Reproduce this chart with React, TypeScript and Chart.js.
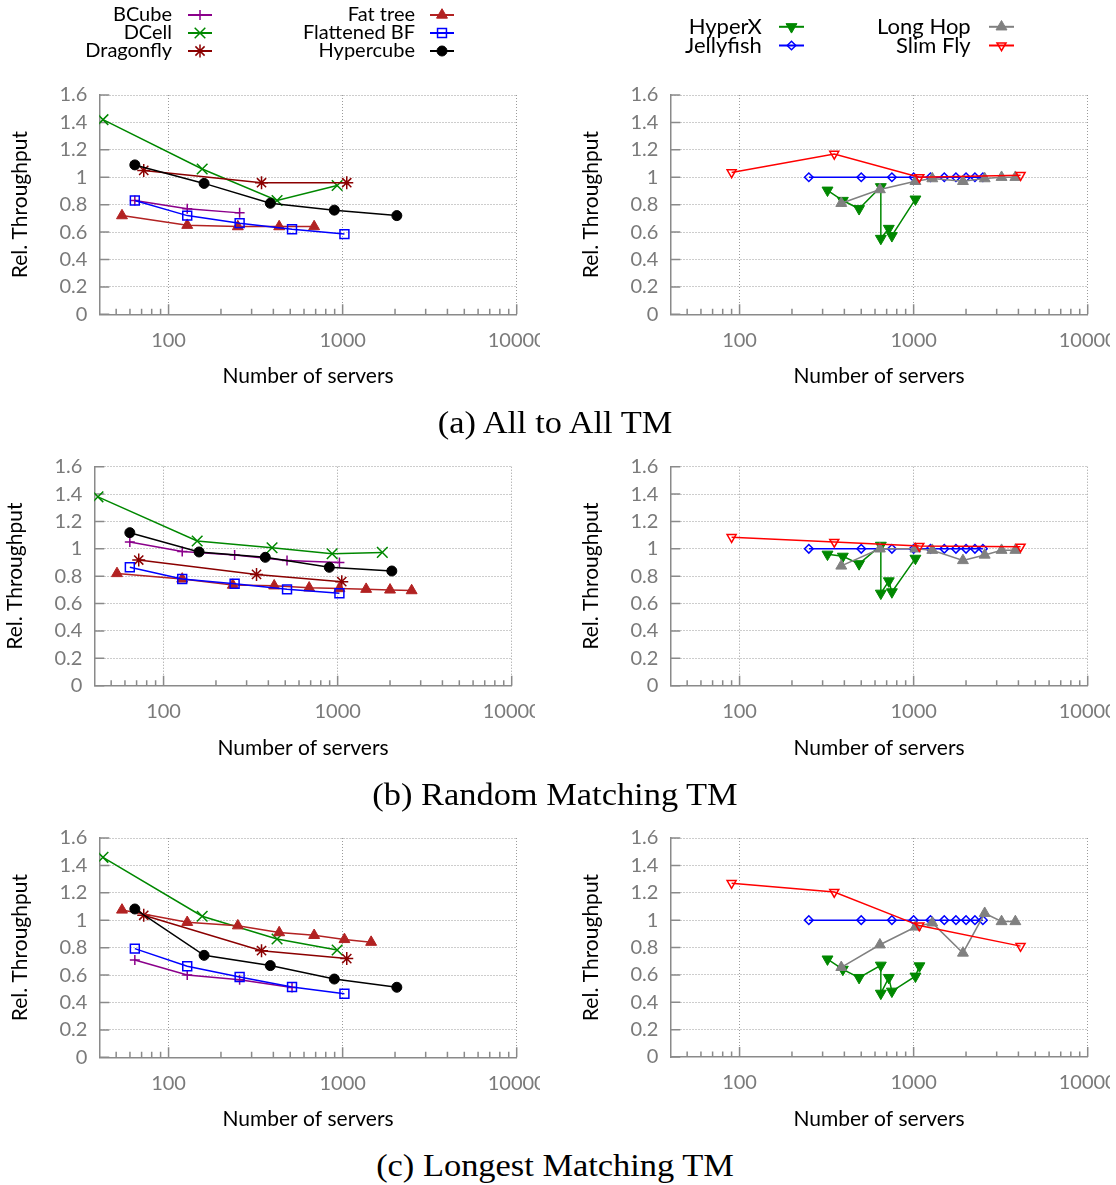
import React, { useEffect, useRef } from 'react';
import { Chart, registerables } from 'chart.js';
import { drawPoint } from 'chart.js/helpers';

Chart.register(...registerables);

// ---- axes ----
const X_MIN = 40;
const X_MAX = 10000;
const xTickValues = [100, 1000, 10000];
const xTickLabels = ['100', '1000', '10000'];
const yTickLabels = ['0', '0.2', '0.4', '0.6', '0.8', '1', '1.2', '1.4', '1.6'];

// ---- server counts per topology ----
const bcubeServers = [64, 128, 256, 512, 1024];
const dcellServers = [42, 156, 420, 930, 1806];
const dragonflyServers = [72, 342, 1056];
const fatTreeServers = [54, 128, 250, 432, 686, 1024, 1458, 2000, 2662];
const flattenedBfServers = [64, 128, 256, 512, 1024];
const hypercubeServers = [64, 160, 384, 896, 2048];
const hyperXServers = [320, 392, 486, 648, 648, 720, 750, 1024, 1080];
const jellyfishServers = [250, 500, 750, 1000, 1250, 1500, 1750, 2000, 2250, 2500];
const longHopServers = [384, 640, 1024, 1280, 1920, 2560, 3200, 3840];
const slimFlyServers = [90, 350, 1078, 4114];

// ---- (a) all to all ----
const bcubeAllToAll = [0.83, 0.77, 0.74];
const dcellAllToAll = [1.42, 1.06, 0.83, 0.94];
const dragonflyAllToAll = [1.05, 0.96, 0.96];
const fatTreeAllToAll = [0.72, 0.65, 0.64, 0.64, 0.64];
const flattenedBfAllToAll = [0.83, 0.72, 0.665, 0.62, 0.585];
const hypercubeAllToAll = [1.09, 0.955, 0.81, 0.76, 0.72];
const hyperXAllToAll = [0.905, 0.83, 0.77, 0.93, 0.553, 0.626, 0.573, 0.84];
const jellyfishAllToAll = [1, 1, 1, 1, 1, 1, 1, 1, 1, 1];
const longHopAllToAll = [0.81, 0.91, 0.97, 0.99, 0.97, 0.99, 1.0, 1.0];
const slimFlyAllToAll = [1.035, 1.17, 1.0, 1.015];

// ---- (b) random matching ----
const bcubeRandom = [1.05, 0.98, 0.955, 0.915, 0.9];
const dcellRandom = [1.38, 1.057, 1.008, 0.964, 0.974];
const dragonflyRandom = [0.918, 0.813, 0.76];
const fatTreeRandom = [0.82, 0.78, 0.735, 0.73, 0.715, 0.71, 0.705, 0.7, 0.695];
const flattenedBfRandom = [0.865, 0.779, 0.745, 0.704, 0.675];
const hypercubeRandom = [1.118, 0.977, 0.938, 0.865, 0.838];
const hyperXRandom = [0.96, 0.945, 0.89, 1.025, 0.675, 0.765, 0.685, 0.93];
const jellyfishRandom = [1, 1, 1, 1, 1, 1, 1, 1, 1, 1];
const longHopRandom = [0.875, 1.0, 1.0, 0.99, 0.915, 0.955, 0.99, 0.99];
const slimFlyRandom = [1.085, 1.05, 1.02, 1.015];

// ---- (c) longest matching ----
const bcubeLongest = [0.71, 0.6, 0.565, 0.51];
const dcellLongest = [1.459, 1.029, 0.863, 0.783];
const dragonflyLongest = [1.036, 0.778, 0.72];
const fatTreeLongest = [1.075, 0.985, 0.96, 0.91, 0.89, 0.86, 0.84];
const flattenedBfLongest = [0.793, 0.664, 0.586, 0.513, 0.464];
const hypercubeLongest = [1.082, 0.744, 0.669, 0.571, 0.511];
const hyperXLongest = [0.715, 0.64, 0.58, 0.67, 0.465, 0.58, 0.48, 0.59, 0.665];
const jellyfishLongest = [1, 1, 1, 1, 1, 1, 1, 1, 1, 1];
const longHopLongest = [0.655, 0.82, 0.95, 0.98, 0.76, 1.05, 0.99, 0.99];
const slimFlyLongest = [1.27, 1.205, 0.96, 0.81];

// ---- look of each topology ----
type Key =
  | 'bcube' | 'dcell' | 'dragonfly' | 'fatTree' | 'flattenedBf' | 'hypercube'
  | 'hyperX' | 'jellyfish' | 'longHop' | 'slimFly';

interface Look {
  label: string;
  color: string;
  pointStyle: string;
  rotation: number;
  radius: number;
  filled: boolean;
}

const looks: Record<Key, Look> = {
  bcube: { label: 'BCube', color: '#8b008b', pointStyle: 'cross', rotation: 0, radius: 5, filled: false },
  dcell: { label: 'DCell', color: '#008800', pointStyle: 'crossRot', rotation: 0, radius: 7.5, filled: false },
  dragonfly: { label: 'Dragonfly', color: '#8b0000', pointStyle: 'star', rotation: 0, radius: 6.5, filled: false },
  fatTree: { label: 'Fat tree', color: '#b22222', pointStyle: 'triangle', rotation: 0, radius: 6.3, filled: true },
  flattenedBf: { label: 'Flattened BF', color: '#0000ff', pointStyle: 'rect', rotation: 0, radius: 6.3, filled: false },
  hypercube: { label: 'Hypercube', color: '#000000', pointStyle: 'circle', rotation: 0, radius: 5, filled: true },
  hyperX: { label: 'HyperX', color: '#008800', pointStyle: 'triangle', rotation: 180, radius: 6.3, filled: true },
  jellyfish: { label: 'Jellyfish', color: '#0000ff', pointStyle: 'rectRot', rotation: 0, radius: 4.3, filled: false },
  longHop: { label: 'Long Hop', color: '#808080', pointStyle: 'triangle', rotation: 0, radius: 6.3, filled: true },
  slimFly: { label: 'Slim Fly', color: '#ff0000', pointStyle: 'triangle', rotation: 180, radius: 5.2, filled: false },
};

const servers: Record<Key, number[]> = {
  bcube: bcubeServers,
  dcell: dcellServers,
  dragonfly: dragonflyServers,
  fatTree: fatTreeServers,
  flattenedBf: flattenedBfServers,
  hypercube: hypercubeServers,
  hyperX: hyperXServers,
  jellyfish: jellyfishServers,
  longHop: longHopServers,
  slimFly: slimFlyServers,
};

const FONT = 'Lato, "Open Sans", sans-serif';
const TICK_GRAY = '#7a7a7a';
const AXIS_GRAY = '#8a8a8a';
const GRID_GRAY = '#9a9a9a';

// ---- key (legend) placement ----
interface KeyItem { key: Key; textRight: number; cx: number; half: number; y: number }

const leftKeyRows = [15, 33, 51];
const rightKeyRows = [26.8, 45.5];

const leftKeyItems: KeyItem[] = [
  ...(['bcube', 'dcell', 'dragonfly'] as Key[]).map((key, i) => ({ key, textRight: 172, cx: 200, half: 12, y: leftKeyRows[i] })),
  ...(['fatTree', 'flattenedBf', 'hypercube'] as Key[]).map((key, i) => ({ key, textRight: 415, cx: 442, half: 12, y: leftKeyRows[i] })),
];
const rightKeyItems: KeyItem[] = [
  ...(['hyperX', 'jellyfish'] as Key[]).map((key, i) => ({ key, textRight: 191.7, cx: 221.5, half: 12.5, y: rightKeyRows[i] })),
  ...(['longHop', 'slimFly'] as Key[]).map((key, i) => ({ key, textRight: 400.7, cx: 431.5, half: 12.5, y: rightKeyRows[i] })),
];

// ---- plugins ----
const keyPlugin = {
  id: 'keyBox',
  afterDraw(chart: any, _args: any, opts: any) {
    const items: KeyItem[] | undefined = opts && opts.items;
    if (!items || !items.length) return;
    const ctx: CanvasRenderingContext2D = chart.ctx;
    ctx.save();
    ctx.font = `${opts.fontSize || 20}px ${FONT}`;
    ctx.textAlign = 'right';
    ctx.textBaseline = 'middle';
    for (const it of items) {
      const lk = looks[it.key];
      ctx.fillStyle = '#000';
      ctx.fillText(lk.label, it.textRight, it.y);
      ctx.strokeStyle = lk.color;
      ctx.lineWidth = 2;
      ctx.setLineDash([]);
      ctx.beginPath();
      ctx.moveTo(it.cx - it.half, it.y);
      ctx.lineTo(it.cx + it.half, it.y);
      ctx.stroke();
      ctx.fillStyle = lk.filled ? lk.color : 'rgba(0,0,0,0)';
      ctx.lineWidth = lk.filled ? 1 : 1.5;
      drawPoint(ctx, { pointStyle: lk.pointStyle as any, rotation: lk.rotation, radius: lk.radius, borderWidth: ctx.lineWidth }, it.cx, it.y);
    }
    ctx.restore();
  },
};

// inward tick marks on the left and bottom axes (minor ticks on the log axis)
const innerTicksPlugin = {
  id: 'innerTicks',
  beforeDatasetsDraw(chart: any) {
    const { ctx, chartArea, scales } = chart;
    const xs = scales.x;
    const ys = scales.y;
    ctx.save();
    ctx.strokeStyle = AXIS_GRAY;
    ctx.lineWidth = 1.5;
    ctx.beginPath();
    for (let d = 1; d <= 4; d++) {
      for (let m = 1; m <= 9; m++) {
        const v = m * Math.pow(10, d);
        if (v <= X_MIN || v > X_MAX) continue;
        const px = xs.getPixelForValue(v);
        const len = m === 1 ? 10 : 5.5;
        ctx.moveTo(px, chartArea.bottom);
        ctx.lineTo(px, chartArea.bottom - len);
      }
    }
    for (let i = 0; i < yTickLabels.length; i++) {
      const py = ys.getPixelForValue(Number(yTickLabels[i]));
      ctx.moveTo(chartArea.left, py);
      ctx.lineTo(chartArea.left + 10, py);
    }
    ctx.stroke();
    ctx.restore();
  },
};

// ---- panel geometry ----
interface Box {
  left: number; top: number; width: number; height: number;
  clipLeft: number; clipWidth: number;
  padTop: number; padBottom: number; padRight: number;
  axisWidth: number; yTitlePad: number;
}

const X_AXIS_HEIGHT = 75;

const leftCol = { width: 570, clipLeft: 0, padRight: 53.3, axisWidth: 99.3, yTitlePad: 7.5 };
const rightCol = { left: 570, width: 570, clipLeft: 570, clipWidth: 540, padRight: 52.3, axisWidth: 100.3, yTitlePad: 9 };

type Series = [Key, number[]];

interface PanelSpec { id: string; box: Box; series: Series[]; keyItems: KeyItem[]; keyFont: number }

const panels: PanelSpec[] = [
  {
    id: 'a-left',
    box: { ...leftCol, left: 0, top: 0, height: 400, clipWidth: 540, padTop: 95, padBottom: 10.7 },
    series: [
      ['bcube', bcubeAllToAll], ['dcell', dcellAllToAll], ['dragonfly', dragonflyAllToAll],
      ['fatTree', fatTreeAllToAll], ['flattenedBf', flattenedBfAllToAll], ['hypercube', hypercubeAllToAll],
    ],
    keyItems: leftKeyItems,
    keyFont: 20,
  },
  {
    id: 'a-right',
    box: { ...rightCol, top: 0, height: 400, padTop: 95, padBottom: 10.7 },
    series: [
      ['hyperX', hyperXAllToAll], ['jellyfish', jellyfishAllToAll],
      ['longHop', longHopAllToAll], ['slimFly', slimFlyAllToAll],
    ],
    keyItems: rightKeyItems,
    keyFont: 22,
  },
  {
    id: 'b-left',
    box: { ...leftCol, left: -5.3, top: 440, height: 330, clipWidth: 535, padTop: 26.7, padBottom: 9.3 },
    series: [
      ['bcube', bcubeRandom], ['dcell', dcellRandom], ['dragonfly', dragonflyRandom],
      ['fatTree', fatTreeRandom], ['flattenedBf', flattenedBfRandom], ['hypercube', hypercubeRandom],
    ],
    keyItems: [],
    keyFont: 20,
  },
  {
    id: 'b-right',
    box: { ...rightCol, top: 440, height: 330, padTop: 26.7, padBottom: 9.3 },
    series: [
      ['hyperX', hyperXRandom], ['jellyfish', jellyfishRandom],
      ['longHop', longHopRandom], ['slimFly', slimFlyRandom],
    ],
    keyItems: [],
    keyFont: 20,
  },
  {
    id: 'c-left',
    box: { ...leftCol, left: 0, top: 810, height: 335, clipWidth: 540, padTop: 28, padBottom: 12.7 },
    series: [
      ['bcube', bcubeLongest], ['dcell', dcellLongest], ['dragonfly', dragonflyLongest],
      ['fatTree', fatTreeLongest], ['flattenedBf', flattenedBfLongest], ['hypercube', hypercubeLongest],
    ],
    keyItems: [],
    keyFont: 20,
  },
  {
    id: 'c-right',
    box: { ...rightCol, top: 810, height: 335, padTop: 28, padBottom: 13 },
    series: [
      ['hyperX', hyperXLongest], ['jellyfish', jellyfishLongest],
      ['longHop', longHopLongest], ['slimFly', slimFlyLongest],
    ],
    keyItems: [],
    keyFont: 20,
  },
];

const captions = [
  { text: '(a) All to All TM', y: 423 },
  { text: '(b) Random Matching TM', y: 795 },
  { text: '(c) Longest Matching TM', y: 1166 },
];

function buildConfig(spec: PanelSpec): any {
  const datasets = spec.series.map(([key, ys], i) => {
    const lk = looks[key];
    const xs = servers[key];
    return {
      label: lk.label,
      data: ys.map((y, j) => ({ x: xs[j], y })),
      borderColor: lk.color,
      backgroundColor: lk.color,
      borderWidth: 1.5,
      pointStyle: lk.pointStyle,
      pointRotation: lk.rotation,
      pointRadius: lk.radius,
      pointHoverRadius: lk.radius,
      pointBorderWidth: lk.filled ? 1 : 1.5,
      pointBorderColor: lk.color,
      pointBackgroundColor: lk.filled ? lk.color : 'rgba(0,0,0,0)',
      fill: false,
      tension: 0,
      order: -i,
    };
  });
  const b = spec.box;
  return {
    type: 'line',
    data: { datasets },
    plugins: [innerTicksPlugin, keyPlugin],
    options: {
      animation: false,
      responsive: false,
      maintainAspectRatio: false,
      events: [],
      layout: { padding: { top: b.padTop, bottom: b.padBottom, left: 0, right: b.padRight } },
      plugins: {
        legend: { display: false },
        tooltip: { enabled: false },
        keyBox: { items: spec.keyItems, fontSize: spec.keyFont },
      },
      scales: {
        x: {
          type: 'logarithmic',
          min: X_MIN,
          max: X_MAX,
          afterBuildTicks: (s: any) => {
            s.ticks = xTickValues.map((v) => ({ value: v }));
          },
          afterFit: (s: any) => {
            s.height = X_AXIS_HEIGHT;
          },
          ticks: {
            autoSkip: false,
            maxRotation: 0,
            padding: 14,
            color: TICK_GRAY,
            font: { family: FONT, size: 20 },
            callback: (_v: any, i: number) => xTickLabels[i],
          },
          grid: { color: GRID_GRAY, lineWidth: 1, drawTicks: false },
          border: { color: AXIS_GRAY, width: 1.5, dash: [1, 2] },
          title: {
            display: true,
            text: 'Number of servers',
            color: '#000',
            font: { family: FONT, size: 21 },
            padding: { top: 0, bottom: 0 },
          },
        },
        y: {
          min: 0,
          max: 1.6,
          afterFit: (s: any) => {
            s.width = b.axisWidth;
          },
          ticks: {
            stepSize: 0.2,
            padding: 12,
            color: TICK_GRAY,
            font: { family: FONT, size: 20 },
            callback: (_v: any, i: number) => yTickLabels[i],
          },
          grid: {
            color: (c: any) => (c.tick && c.tick.value === 0 ? 'rgba(0,0,0,0)' : GRID_GRAY),
            lineWidth: 1,
            drawTicks: false,
          },
          border: { color: AXIS_GRAY, width: 1.5, dash: [1, 2] },
          title: {
            display: true,
            text: 'Rel. Throughput',
            color: '#000',
            font: { family: FONT, size: 21 },
            padding: { top: b.yTitlePad, bottom: 0 },
          },
        },
      },
    },
  };
}

function Panel({ spec }: { spec: PanelSpec }) {
  const ref = useRef<HTMLCanvasElement>(null);
  useEffect(() => {
    if (!ref.current) return;
    const chart = new Chart(ref.current, buildConfig(spec));
    return () => chart.destroy();
  }, [spec]);
  const b = spec.box;
  return (
    <div
      style={{
        position: 'absolute',
        left: b.clipLeft,
        top: b.top,
        width: b.clipWidth,
        height: b.height,
        overflow: 'hidden',
      }}
    >
      <canvas
        ref={ref}
        width={b.width}
        height={b.height}
        style={{ position: 'absolute', left: b.left - b.clipLeft, top: 0, width: b.width, height: b.height }}
      />
    </div>
  );
}

export default function App() {
  return (
    <div style={{ position: 'absolute', left: 0, top: 0, width: 1116, height: 1185, background: '#fff' }}>
      {panels.map((p) => (
        <Panel key={p.id} spec={p} />
      ))}
      {captions.map((c) => (
        <div
          key={c.text}
          style={{
            position: 'absolute',
            left: 0,
            width: 1110,
            top: c.y - 18,
            height: 36,
            lineHeight: '36px',
            textAlign: 'center',
            fontFamily: '"Liberation Serif", "DejaVu Serif", serif',
            fontSize: 31,
            color: '#000',
            transform: 'scaleX(1.11)',
            transformOrigin: '555px 50%',
          }}
        >
          {c.text}
        </div>
      ))}
    </div>
  );
}
